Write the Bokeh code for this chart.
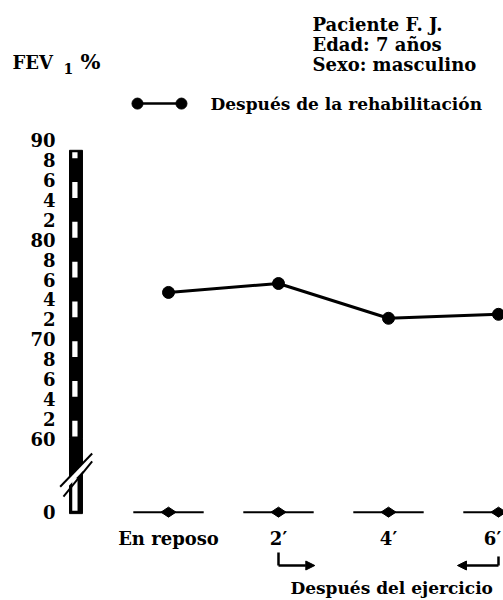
from bokeh.plotting import figure
from bokeh.models import Range1d, Arrow, NormalHead
from bokeh.embed import file_html
from bokeh.resources import INLINE
from bokeh.core.properties import value
import math

# ---------------- data ----------------
categories = ["En reposo", "2\u2032", "4\u2032", "6\u2032"]
fev1_pct = [74.7, 75.6, 72.1, 72.5]
ytick_values = [60, 62, 64, 66, 68, 70, 72, 74, 76, 78, 80, 82, 84, 86, 88, 90]
ytick_labels = ["60", "2", "4", "6", "8", "70", "2", "4", "6", "8",
                "80", "2", "4", "6", "8", "90"]
zero_label = "0"
header_lines = ["Paciente F. J.", "Edad: 7 años", "Sexo: masculino"]
legend_label = "Después de la rehabilitación"
exercise_note = "Después del ejercicio"

# ---------------- layout constants ----------------
ZERO_POS = 52.6          # where the broken axis shows "0"
BAR_TOP = 89.0
BAR_L, BAR_R = -0.90, -0.782
FONT = "DejaVu Serif"
idx = list(range(len(categories)))

p = figure(width=503, height=600, output_backend="svg", toolbar_location=None,
           x_range=Range1d(-1.5273, 3.0455), y_range=Range1d(43.71, 104.07),
           x_axis_location=None, y_axis_location=None,
           min_border=0, min_border_left=0, min_border_right=0,
           min_border_top=0, min_border_bottom=0)
p.grid.visible = False
p.outline_line_color = None
p.background_fill_color = "white"
p.border_fill_color = "white"


def txt(x, y, t, size, align="left", x_offset=0):
    p.text(x=x, y=y, text=t, text_align=align, text_baseline="middle",
           text_font=value(FONT), text_font_style="bold",
           text_font_size=size, text_color="black", x_offset=x_offset)


# y tick labels of the broken axis
txt([-1.0273] * (len(ytick_values) + 1), ytick_values + [ZERO_POS],
    ytick_labels + [zero_label], "18px", align="right")

# ladder bar of the axis
ymin = min(ytick_values)
p.quad(left=BAR_L, right=BAR_R, top=BAR_TOP, bottom=ymin,
       fill_color="black", line_color="black", line_width=1)
p.quad(left=BAR_L, right=BAR_R, top=ymin, bottom=ZERO_POS - 0.15,
       fill_color="black", line_color="black", line_width=1)
bounds = [BAR_TOP] + [v for v in reversed(ytick_values) if v < BAR_TOP]
w_tops = [bounds[i] - 0.2 for i in range(0, len(bounds) - 1, 2)]
w_bots = [bounds[i + 1] + 0.2 for i in range(0, len(bounds) - 1, 2)]
SL, SR = BAR_L + 0.025, BAR_L + 0.073
p.quad(left=SL, right=SR, top=w_tops, bottom=w_bots,
       fill_color="white", line_color=None)
# lower (below break) part: outlined with white stripe
p.quad(left=SL, right=SR, top=56.0, bottom=ZERO_POS + 0.15,
       fill_color="white", line_color=None)

# axis break (two parallel slashes)
bx0, bx1 = -0.985, -0.694
by0, by1 = 55.15, 58.5
gap = 0.8
p.patch(x=[bx0, bx1, bx1, bx0], y=[by0, by1, by1 - gap, by0 - gap],
        fill_color="white", line_color=None)
p.segment(x0=[bx0, bx0 + 0.03], y0=[by0, by0 - gap - 0.2],
          x1=[bx1, bx1], y1=[by1, by1 - gap],
          line_color="black", line_width=2)

# baseline marks at 0
p.segment(x0=[i - 0.32 for i in idx], x1=[i + 0.32 for i in idx],
          y0=[ZERO_POS] * len(idx), y1=[ZERO_POS] * len(idx),
          line_color="black", line_width=2)
p.scatter(x=idx, y=[ZERO_POS] * len(idx), marker="diamond", size=15,
          angle=math.pi / 2, fill_color="black", line_color="black")

# category labels
txt(idx, [49.95] * len(idx), categories, "18px", align="center",
    x_offset=[0, 0, 0, -6])

# exercise arrows
p.segment(x0=[1, 3], x1=[1, 3], y0=[48.54, 48.14], y1=[47.23, 47.23],
          line_color="black", line_width=2.5)
head = dict(size=9, fill_color="black", line_color="black")
p.add_layout(Arrow(end=NormalHead(**head), x_start=1, y_start=47.23,
                   x_end=1.33, y_end=47.23, line_color="black", line_width=2.5))
p.add_layout(Arrow(end=NormalHead(**head), x_start=3, y_start=47.23,
                   x_end=2.627, y_end=47.23, line_color="black", line_width=2.5))
txt([1.109], [44.95], [exercise_note], "17px")

# data series
p.line(x=idx, y=fev1_pct, line_color="black", line_width=3)
p.scatter(x=idx, y=fev1_pct, size=12, fill_color="black", line_color="black")

# legend
p.line(x=[-0.282, 0.118], y=[93.7, 93.7], line_color="black", line_width=2.5)
p.scatter(x=[-0.282, 0.118], y=[93.7, 93.7], size=11, fill_color="black",
          line_color="black")
txt([0.382], [93.7], [legend_label], "17px")

# header
txt([1.309] * 3, [101.67, 99.66, 97.65], header_lines, "18px")

# y title FEV1 %
txt([-1.418], [97.85], ["FEV"], "18px")
txt([-0.955], [97.25], ["1"], "14px")
txt([-0.800], [97.95], ["%"], "21px")

open("out.html", "w").write(file_html(p, INLINE))
